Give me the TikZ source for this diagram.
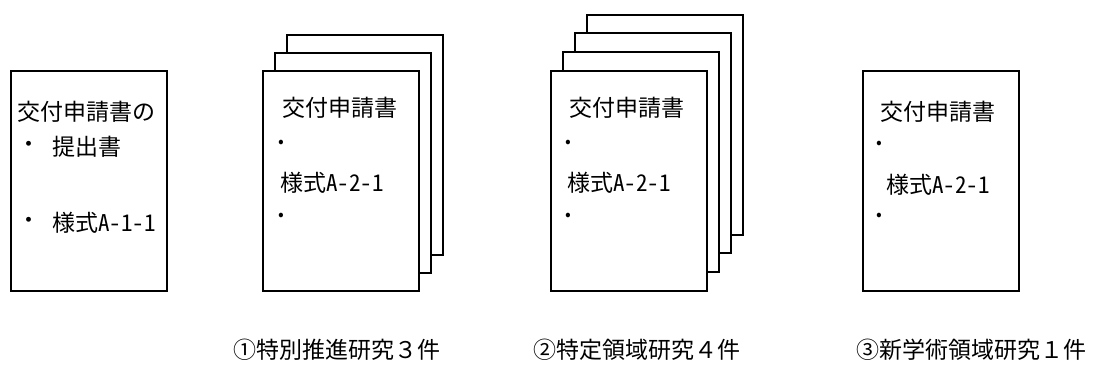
\documentclass[tikz,border=0pt]{standalone}
\usepackage{fontspec}
\newfontfamily\jp{Noto Sans CJK JP}
\newfontfamily\jphw[RawFeature=+hwid]{Noto Sans CJK JP}
\begin{document}
\begin{tikzpicture}[x=1pt,y=-1pt,
  sheet/.style={draw=black,line width=1.8pt,fill=white,anchor=north west,inner sep=0pt,minimum width=156pt,minimum height=220pt},
  txt/.style={anchor=west,inner sep=0pt,font=\jp\fontsize{23}{28}\selectfont},
  dot/.style={anchor=center,inner sep=0pt,font=\jp\fontsize{17}{18}\selectfont},
  lbl/.style={anchor=west,inner sep=0pt,font=\jp\fontsize{23}{28}\selectfont}]
\useasboundingbox (0,0) rectangle (1098,374);
% box 1
\node[sheet] (s1) at (10,70) {};
\node[txt] (t1a) at (17,112) {交付申請書の};
\node[txt] (t1b) at (17,147) {・};
\node[txt] (t1c) at (52,147) {提出書};
\node[txt] (t1d) at (17,223) {・};
\node[txt] (t1e) at (52,223) {様式{\jphw A-1-1}};
% stack 2
\node[sheet] (s2c) at (286,34) {};
\node[sheet] (s2b) at (274,52) {};
\node[sheet] (s2a) at (262,70) {};
\node[txt] (t2a) at (282,108) {交付申請書};
\node[dot] (d2a) at (281,144) {•};
\node[txt] (t2b) at (280,183) {様式{\jphw A-2-1}};
\node[dot] (d2b) at (281,217) {•};
% stack 3
\node[sheet] (s3d) at (586,14) {};
\node[sheet] (s3c) at (574,32) {};
\node[sheet] (s3b) at (562,51) {};
\node[sheet] (s3a) at (550,70) {};
\node[txt] (t3a) at (569,108) {交付申請書};
\node[dot] (d3a) at (568,144) {•};
\node[txt] (t3b) at (567,183) {様式{\jphw A-2-1}};
\node[dot] (d3b) at (568,217) {•};
% box 4
\node[sheet] (s4) at (862,70) {};
\node[txt] (t4a) at (880,112) {交付申請書};
\node[dot] (d4a) at (879,145) {•};
\node[txt] (t4b) at (886,185) {様式{\jphw A-2-1}};
\node[dot] (d4b) at (879,217) {•};
% labels
\node[lbl] (l1) at (233,350) {①特別推進研究３件};
\node[lbl] (l2) at (533,350) {②特定領域研究４件};
\node[lbl] (l3) at (856,350) {③新学術領域研究１件};
\end{tikzpicture}
\end{document}
